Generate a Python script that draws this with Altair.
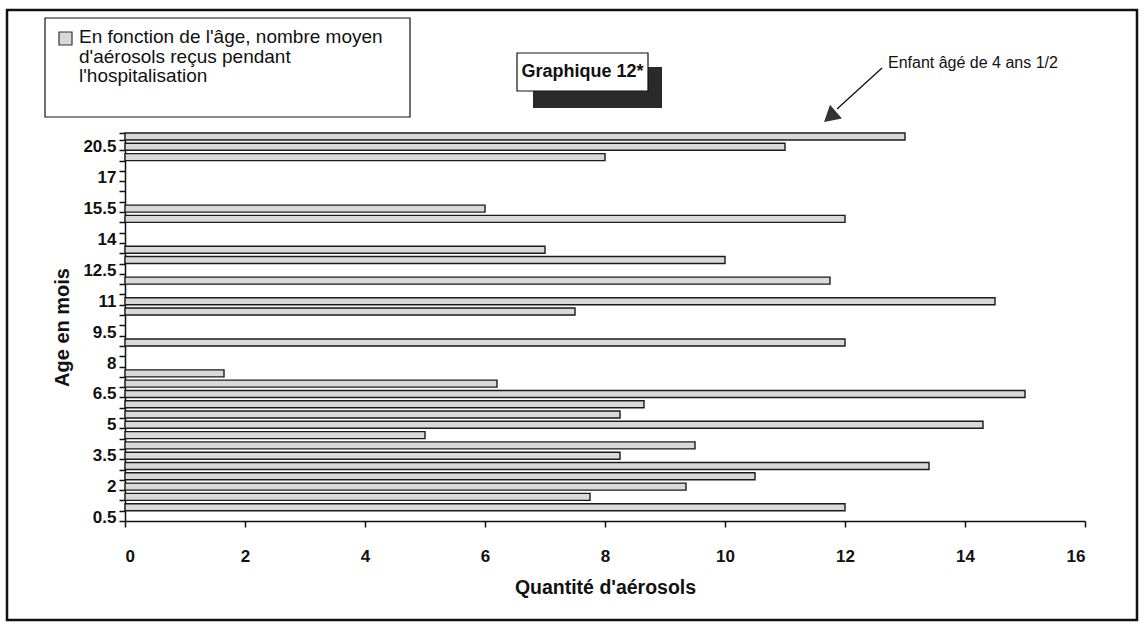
import altair as alt
import pandas as pd

# Category axis (age in months), bottom to top
categories = ["0.5", "1", "1.5", "2", "2.5", "3", "3.5", "4", "4.5", "5",
              "5.5", "6", "6.5", "7", "7.5", "8", "8.5", "9", "9.5", "10",
              "10.5", "11", "11.5", "12", "12.5", "13", "13.5", "14", "14.5", "15",
              "15.5", "16", "16.5", "17", "18", "19", "20.5", "54"]
shown_labels = ["0.5", "2", "3.5", "5", "6.5", "8", "9.5", "11", "12.5", "14",
                "15.5", "17", "20.5"]

bar_ages = ["1", "1.5", "2", "2.5", "3", "3.5", "4", "4.5", "5", "5.5",
            "6", "6.5", "7", "7.5", "9", "10.5", "11", "12", "13", "13.5",
            "15", "15.5", "19", "20.5", "54"]
bar_values = [12, 7.75, 9.35, 10.5, 13.4, 8.25, 9.5, 5.0, 14.3, 8.25,
              8.65, 15.0, 6.2, 1.65, 12, 7.5, 14.5, 11.75, 10, 7,
              12, 6, 8, 11, 13]

x_ticks = [0, 2, 4, 6, 8, 10, 12, 14, 16]

legend_text = "En fonction de l'âge, nombre moyen\nd'aérosols reçus pendant\nl'hospitalisation"
title_text = "Graphique 12*"
note_text = "Enfant âgé de 4 ans 1/2"

df = pd.DataFrame({"age": bar_ages, "n": bar_values})
one = pd.DataFrame({"k": [0]})

FONT = "Liberation Sans"

label_list = ",".join("'" + s + "'" for s in shown_labels)
label_expr = f"indexof([{label_list}], datum.value) >= 0 ? datum.value : ''"

bars = alt.Chart(df).mark_bar(
    fill="#d9d9d9", stroke="#1a1a1a", strokeWidth=1.4
).encode(
    x=alt.X("n:Q",
            scale=alt.Scale(domain=[0, 16], nice=False),
            axis=alt.Axis(title="Quantité d'aérosols", values=x_ticks,
                          grid=False, tickSize=6, labelPadding=21,
                          labelFont=FONT, labelFontSize=17, labelFontWeight="bold",
                          labelColor="#111", titleFont=FONT, titleFontSize=19.5,
                          titleFontWeight="bold", titleColor="#111",
                          titlePadding=14, domainColor="#111", tickColor="#111",
                          domainWidth=1.5, tickWidth=1.5)),
    y=alt.Y("age:N",
            scale=alt.Scale(domain=categories[::-1], paddingInner=0.32, paddingOuter=0),
            axis=alt.Axis(title="Age en mois", labelExpr=label_expr,
                          tickBand="extent", tickSize=6, labelPadding=3,
                          labelOverlap=False,
                          labelFont=FONT, labelFontSize=17, labelFontWeight="bold",
                          labelColor="#111", titleFont=FONT, titleFontSize=20,
                          titleFontWeight="bold", titleColor="#111",
                          titlePadding=10, domainColor="#111", tickColor="#111",
                          domainWidth=1.5, tickWidth=1.5)),
)

frame = alt.Chart(one).mark_rect(fill=None, stroke="#111", strokeWidth=2.5).encode(
    x=alt.value(-118), x2=alt.value(1012), y=alt.value(-123), y2=alt.value(487))

legend_box = alt.Chart(one).mark_rect(fill="white", stroke="#111", strokeWidth=1.2).encode(
    x=alt.value(-80), x2=alt.value(285), y=alt.value(-115), y2=alt.value(-16))
legend_swatch = alt.Chart(one).mark_rect(fill="#d9d9d9", stroke="#333", strokeWidth=1.2).encode(
    x=alt.value(-66), x2=alt.value(-53), y=alt.value(-101), y2=alt.value(-88))
legend_label = alt.Chart(one).mark_text(
    align="left", baseline="top", lineBreak="\n", lineHeight=19.5,
    font=FONT, fontSize=19, color="#111"
).encode(x=alt.value(-46), y=alt.value(-105), text=alt.value(legend_text))

title_shadow = alt.Chart(one).mark_rect(fill="#2a2a2a").encode(
    x=alt.value(408), x2=alt.value(537), y=alt.value(-66), y2=alt.value(-25))
title_box = alt.Chart(one).mark_rect(fill="white", stroke="#111", strokeWidth=1.2).encode(
    x=alt.value(392), x2=alt.value(523), y=alt.value(-80), y2=alt.value(-42))
title_label = alt.Chart(one).mark_text(
    align="center", baseline="middle", font=FONT, fontSize=18, fontWeight="bold", color="#111"
).encode(x=alt.value(457.5), y=alt.value(-61), text=alt.value(title_text))

note_label = alt.Chart(one).mark_text(
    align="left", baseline="middle", font=FONT, fontSize=16, color="#111"
).encode(x=alt.value(763), y=alt.value(-70), text=alt.value(note_text))
note_line = alt.Chart(one).mark_rule(stroke="#111", strokeWidth=1.3).encode(
    x=alt.value(757), y=alt.value(-65), x2=alt.value(712), y2=alt.value(-24))
note_head = alt.Chart(one).mark_point(
    shape="triangle", filled=True, size=330, color="#333", opacity=1, angle=229
).encode(x=alt.value(707), y=alt.value(-18))

chart = alt.layer(
    frame, bars, legend_box, legend_swatch, legend_label,
    title_shadow, title_box, title_label, note_line, note_head, note_label
).properties(
    width=960, height=388,
    padding={"left": 125, "top": 133, "right": 57, "bottom": 102},
    autosize=alt.AutoSizeParams(type="none"),
    background="white",
).configure_view(stroke=None)

chart.save("out.html", embed_options={"renderer": "svg", "actions": False})
